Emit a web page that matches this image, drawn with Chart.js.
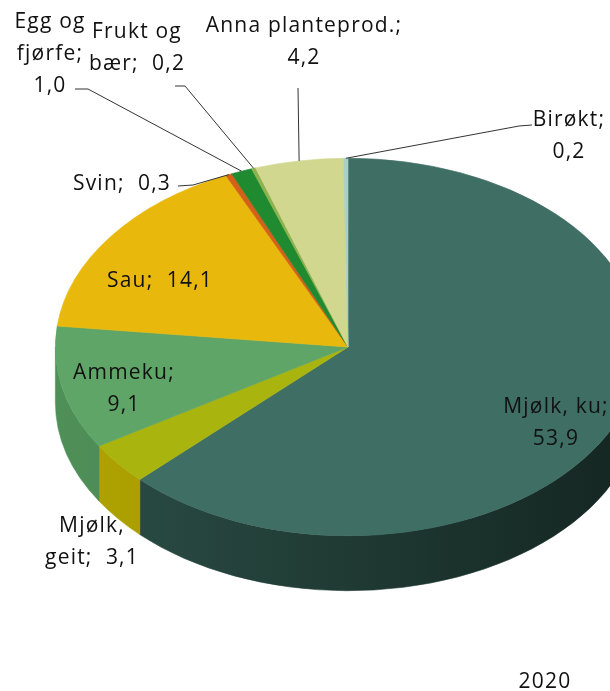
<!DOCTYPE html>
<html>
<head>
<meta charset="utf-8">
<script src="https://cdn.jsdelivr.net/npm/chart.js@4/dist/chart.umd.min.js"></script>
<style>
  html, body { margin: 0; padding: 0; background: #fff; overflow: hidden; }
  #wrap { position: relative; width: 610px; height: 691px; overflow: hidden; }
  canvas { position: absolute; left: 0; top: 0; }
</style>
</head>
<body>
<div id="wrap"><canvas id="chart" width="700" height="691"></canvas></div>
<script>
// Values per production, 2020
const categories = ['Mjølk, ku', 'Mjølk, geit', 'Ammeku', 'Sau', 'Svin', 'Egg og fjørfe', 'Frukt og bær', 'Anna planteprod.', 'Birøkt'];
const values = [53.9, 3.1, 9.1, 14.1, 0.3, 1.0, 0.2, 4.2, 0.2];
const year = '2020';

const topColors = ['#3e6e64', '#aab40f', '#5fa567', '#e8b90c', '#d4601a', '#1f8a30', '#8fb24e', '#d1d78f', '#a9d0c6'];
const sideColors = [['#2b4f47', '#142520'], ['#b0a300', '#8f8600'], ['#4f8f58', '#3f7546'], ['#c89e08', '#a07e05'],
                    ['#b04e14', '#8a3c0e'], ['#17702a', '#105a20'], ['#74923c', '#5d762f'], ['#b3b874', '#93985e'], ['#8db3aa', '#6f8f87']];

const fmt = v => v.toFixed(1).replace('.', ',');

/**
 * Label layout: center x, first baseline, word breaks, optional leader points (label side first).
 */
const labelLayout = [
    {x: 556, y: 413, breaks: [2]},
    {x: 92, y: 532, breaks: [1]},
    {x: 124, y: 379, breaks: [1]},
    {x: 160, y: 287, breaks: []},
    {x: 122, y: 190, breaks: [], leader: [[178, 186], [193, 185]]},
    {x: 50, y: 28, breaks: [2, 3], leader: [[75, 89], [88, 89]]},
    {x: 137, y: 38, breaks: [2], leader: [[175, 86], [185, 86]]},
    {x: 304, y: 32, breaks: [2], leader: [[298, 88]]},
    {x: 569, y: 126, breaks: [1], leader: [[532, 125], [519, 126]]}
];

/**
 * Builds the text lines of a slice label, "Category;  value" wrapped at the given word breaks.
 */
function labelLines(i) {
    let words = categories[i].split(' ');
    words[words.length - 1] += ';';
    const val = fmt(values[i]);
    words.push(val);
    let lines = [];
    let cuts = [0].concat(labelLayout[i].breaks, [words.length]);
    for (let c = 0; c < cuts.length - 1; c++) {
        let part = words.slice(cuts[c], cuts[c + 1]);
        let text = '';
        part.forEach((w, j) => {
            if (j > 0) text += (w === val && c === cuts.length - 2 && j === part.length - 1) ? '  ' : ' ';
            text += w;
        });
        lines.push(text);
    }
    return lines;
}

/**
 * Draws the pie as a tilted disc: side walls first, then the squashed top faces.
 */
const pie3d = {
    id: 'pie3d',
    beforeDatasetsDraw(chart, args, opts) {
        const ctx = chart.ctx;
        const arcs = chart.getDatasetMeta(0).data;
        const cx = arcs[0].x, cy = arcs[0].y;
        const k = opts.tilt, depth = opts.depth;
        arcs.forEach((arc, i) => {
            const p = arc.getProps(['startAngle', 'endAngle', 'outerRadius']);
            const s = Math.max(p.startAngle, 0), e = Math.min(p.endAngle, Math.PI);
            if (e <= s) return;
            const r = p.outerRadius;
            ctx.beginPath();
            ctx.ellipse(cx, cy, r, r * k, 0, s, e);
            ctx.ellipse(cx, cy + depth, r, r * k, 0, e, s, true);
            ctx.closePath();
            let g = ctx.createLinearGradient(cx - r, 0, cx + r, 0);
            g.addColorStop(0, sideColors[i][0]);
            g.addColorStop(1, sideColors[i][1]);
            ctx.fillStyle = g;
            ctx.fill();
            ctx.strokeStyle = g;
            ctx.lineWidth = 0.6;
            ctx.stroke();
        });
        ctx.save();
        ctx.translate(cx, cy);
        ctx.scale(1, k);
        ctx.translate(-cx, -cy);
        arcs.forEach(arc => arc.draw(ctx));
        ctx.restore();
        return false;
    },
    afterDraw(chart, args, opts) {
        const ctx = chart.ctx;
        const arcs = chart.getDatasetMeta(0).data;
        const cx = arcs[0].x, cy = arcs[0].y;
        const k = opts.tilt;
        ctx.save();
        ctx.font = opts.font;
        ctx.letterSpacing = opts.letterSpacing;
        ctx.fillStyle = '#111';
        ctx.textAlign = 'center';
        ctx.textBaseline = 'alphabetic';
        arcs.forEach((arc, i) => {
            const lay = labelLayout[i];
            labelLines(i).forEach((line, j) => {
                ctx.fillText(line, lay.x, lay.y + j * opts.lineHeight);
            });
            if (lay.leader) {
                const p = arc.getProps(['startAngle', 'endAngle', 'outerRadius']);
                const m = (p.startAngle + p.endAngle) / 2;
                const ex = cx + p.outerRadius * Math.cos(m);
                const ey = cy + p.outerRadius * k * Math.sin(m);
                ctx.beginPath();
                ctx.moveTo(lay.leader[0][0], lay.leader[0][1]);
                for (let n = 1; n < lay.leader.length; n++) ctx.lineTo(lay.leader[n][0], lay.leader[n][1]);
                ctx.lineTo(ex, ey);
                ctx.strokeStyle = '#333';
                ctx.lineWidth = 1;
                ctx.stroke();
            }
        });
        ctx.fillText(year, 545, 688);
        ctx.restore();
    }
};

new Chart(document.getElementById('chart').getContext('2d'), {
    type: 'pie',
    data: {
        labels: categories,
        datasets: [{
            data: values,
            backgroundColor: topColors,
            borderColor: topColors,
            borderWidth: 0.8
        }]
    },
    options: {
        responsive: false,
        animation: false,
        events: [],
        layout: {padding: {left: 55, right: 59, top: 54, bottom: 51}},
        plugins: {
            legend: {display: false},
            title: {display: false},
            tooltip: {enabled: false},
            pie3d: {tilt: 0.645, depth: 55, font: '21px "Open Sans"', letterSpacing: '1.2px', lineHeight: 32}
        }
    },
    plugins: [pie3d]
});
</script>
</body>
</html>
